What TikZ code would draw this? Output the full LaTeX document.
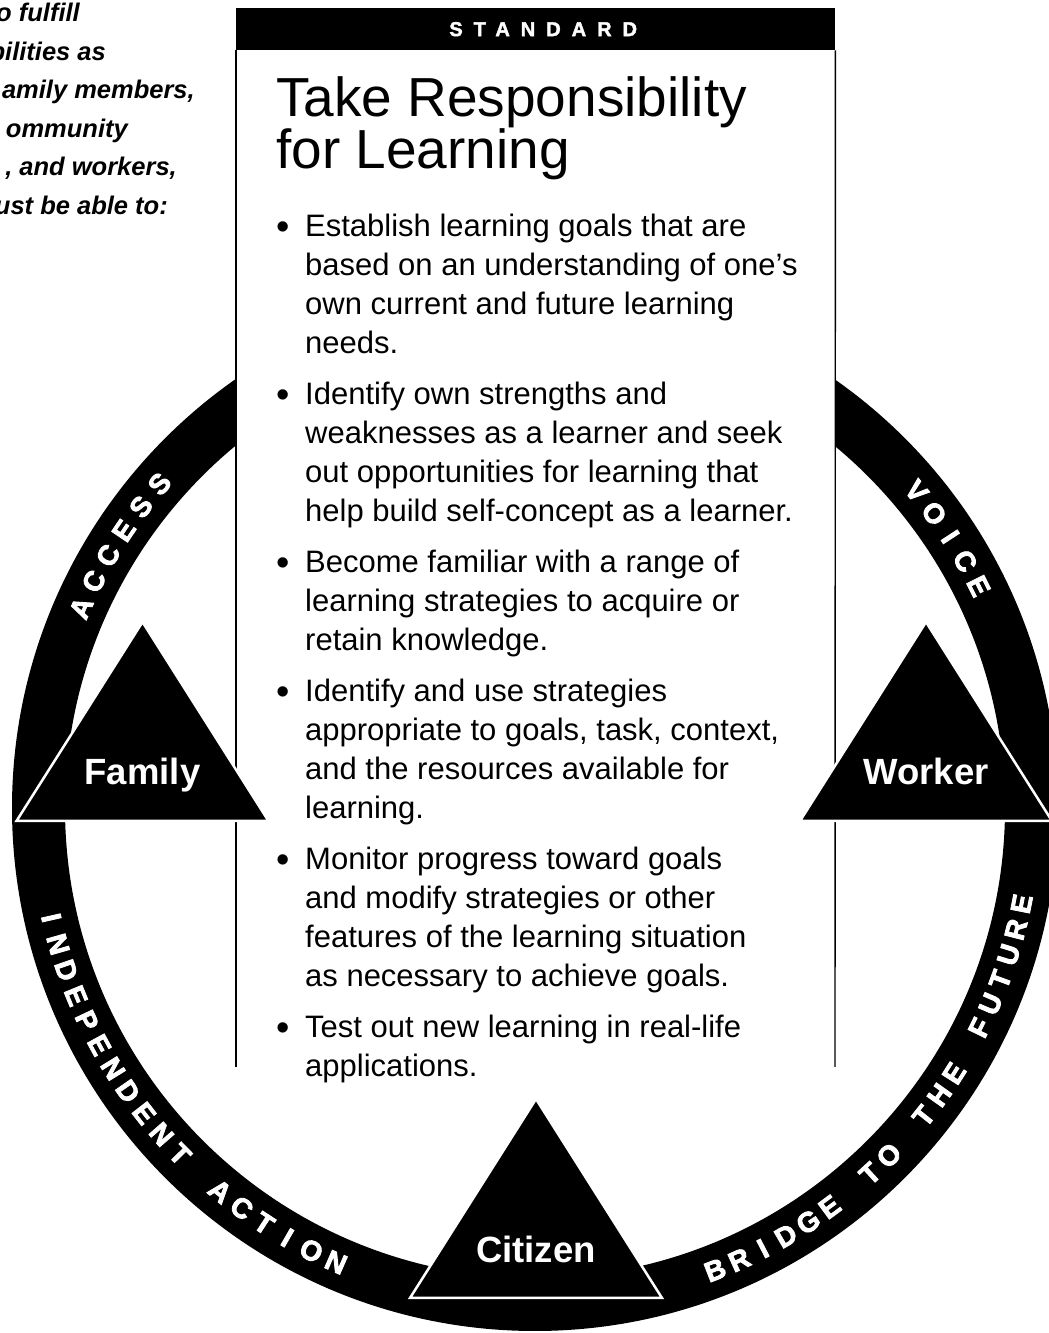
\documentclass[tikz,border=0pt]{standalone}
\usepackage{fontspec}
\setmainfont{Liberation Sans}
\newfontfamily\headfont[LetterSpace=55,FakeBold=2]{Liberation Sans Bold}
\newfontfamily\ringfont[FakeBold=3]{Liberation Sans Bold}
\usepackage{xcolor}
\definecolor{cInk}{HTML}{000000}
\definecolor{cPaper}{HTML}{FFFFFF}
\usetikzlibrary{positioning,calc}
\newcommand{\itembullet}{\llap{\raisebox{-2.5pt}{\fontsize{38}{38}\selectfont\textbullet}\hspace{15pt}}}
\tikzset{
  ring-letter/.style={text=cPaper,inner sep=0pt,
    font=\fontsize{28}{28}\ringfont},
  role-tri/.style={fill=cInk,draw=cPaper,line width=2.5pt,line join=miter},
  role-label/.style={text=cPaper,inner sep=0pt,anchor=base,
    font=\fontsize{36.5}{36.5}\selectfont\bfseries},
  box-rule/.style={draw=cInk,line width=1.4pt},
  intro-line/.style={anchor=base east,inner sep=0pt,
    font=\fontsize{25.5}{25.5}\selectfont\bfseries\itshape},
}

\begin{document}
\begin{tikzpicture}[x=1pt,y=1pt]
  \useasboundingbox (0,0) rectangle (1049,1333);
  \coordinate (ring) at (535,525);

  % the ring and its words
  \fill[cInk,even odd rule] (ring) circle[radius=523] (ring) circle[radius=470];
  \foreach \start/\dir/\turn/\word in {156.2/-3.4/-90/{A,C,C,E,S,S},
      39.7/-3.28/-90/{V,O,I,C,E},
      192.8/3.15/90/{I,N,D,E,P,E,N,D,E,N,T},
      230.6/3.15/90/{A,C,T,I,O,N},
      291.3/3.03/90/{B,R,I,D,G,E},
      312.5/3.03/90/{T,O},
      321.6/3.03/90/{T,H,E},
      333.7/3.03/90/{F,U,T,U,R,E}}
    \foreach \ch [count=\i from 0] in \word {
      \pgfmathsetmacro\ang{\start+\dir*\i}
      \node[ring-letter,rotate=\ang+\turn] at ($(ring)+(\ang:496)$) {\ch};
    }

  % standard box
  \fill[cPaper] (236,266) rectangle (835,1325);
  \node[fill=cInk,text=cPaper,anchor=north west,inner sep=0pt,
    minimum width=599pt,minimum height=42pt,
    font=\fontsize{20}{20}\headfont] (standard) at (236,1325)
    {\hspace{15pt}STANDARD};
  \draw[box-rule] (standard.south west) -- (236,266);
  \draw[box-rule] (standard.south east) -- (835,266);

  \node[anchor=north west,inner sep=0pt,align=left,
    font=\fontsize{55}{52}\selectfont] (title) at (276,1257)
    {Take Responsibility\\for Learning};

  \node[anchor=north west,inner sep=0pt,align=left,
    font=\fontsize{31}{39}\selectfont] (goals) at (305,1119)
    {\itembullet Establish learning goals that are\\
     based on an understanding of one’s\\
     own current and future learning\\
     needs.\\[12pt]
     \itembullet Identify own strengths and\\
     weaknesses as a learner and seek\\
     out opportunities for learning that\\
     help build self-concept as a learner.\\[12pt]
     \itembullet Become familiar with a range of\\
     learning strategies to acquire or\\
     retain knowledge.\\[12pt]
     \itembullet Identify and use strategies\\
     appropriate to goals, task, context,\\
     and the resources available for\\
     learning.\\[12pt]
     \itembullet Monitor progress toward goals\\
     and modify strategies or other\\
     features of the learning situation\\
     as necessary to achieve goals.\\[12pt]
     \itembullet Test out new learning in real-life\\
     applications.};

  % the three roles
  \foreach \name/\cx/\by/\txt/\ly in {family/142.5/512/Family/548,
      worker/926/512/Worker/548, citizen/536/35/Citizen/70} {
    \draw[role-tri] (\cx-126,\by) -- (\cx,\by+199) -- (\cx+126,\by) -- cycle;
    \node[role-label] (\name) at (\cx,\ly) {\txt};
  }

  % intro text, cut at the page edge
  \node[intro-line] (intro-a) at (80,1311) {o fulfill};
  \node[intro-line] (intro-b) at (106,1272) {bilities as};
  \node[intro-line] (intro-c) at (195,1234) {amily members,};
  \node[intro-line] (intro-d) at (128,1195) {ommunity};
  \node[intro-line] (intro-e) at (177,1157) {, and workers,};
  \node[intro-line] (intro-f) at (168,1118) {ust be able to:};
\end{tikzpicture}
\end{document}
